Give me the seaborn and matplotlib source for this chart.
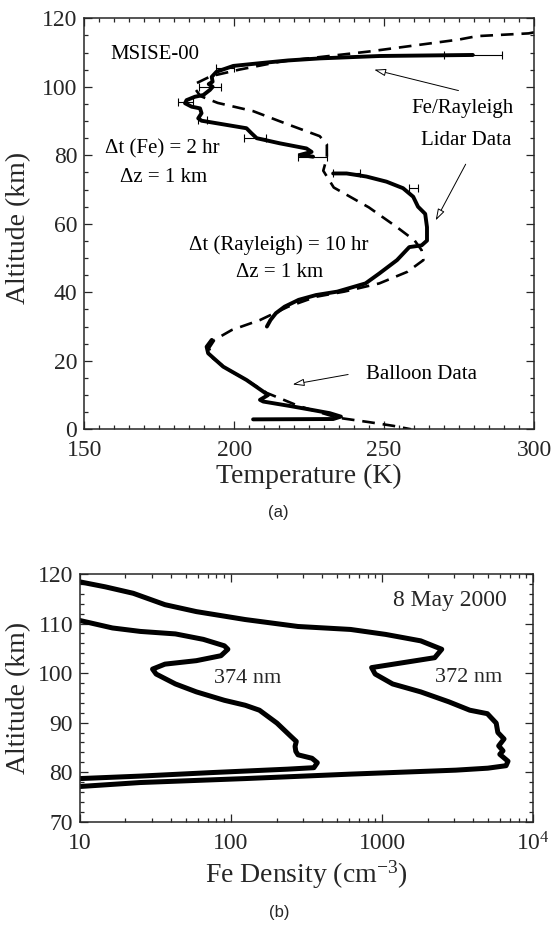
import numpy as np
import pandas as pd
import matplotlib
matplotlib.use("Agg")
import matplotlib.pyplot as plt
from matplotlib.ticker import MultipleLocator, LogLocator, NullFormatter
import seaborn as sns

# ---- panel (a): temperature profiles ----
fe_temp = [279.6, 248.6, 228.6, 218.0, 208.6, 199.7, 194.1, 192.5, 192.8, 191.5, 192.8, 191.9,
           189.7, 186.9, 184.1, 183.6, 185.8, 188.6, 189.1, 188.0, 189.1, 204.1, 205.8, 207.5,
           215.2, 224.1, 225.8, 221.9, 226.3]
fe_alt = [109.3, 109.0, 108.3, 107.7, 106.9, 106.1, 104.4, 102.9, 101.5, 100.8, 100.0, 99.1,
          97.6, 97.1, 96.1, 95.2, 94.2, 93.7, 92.3, 90.8, 90.1, 87.9, 86.4, 85.0,
          83.5, 82.0, 81.0, 80.1, 79.6]

ray_temp = [233.0, 237.5, 244.1, 250.8, 256.3, 259.7, 261.3, 263.7, 264.3, 264.3, 262.5, 258.4,
            254.3, 248.4, 243.8, 234.4, 227.3, 221.5, 216.8, 213.9, 212.1, 210.9]
ray_alt = [74.7, 74.7, 73.8, 72.3, 70.4, 67.9, 65.0, 62.9, 59.0, 55.1, 53.7, 53.2,
           49.4, 45.5, 42.6, 40.2, 39.2, 37.8, 35.8, 33.9, 31.9, 30.0]

balloon_temp = [192.5, 190.8, 191.3, 196.3, 204.1, 209.7, 211.3, 208.6, 209.7, 218.6, 226.3,
                231.9, 235.6, 233.0, 206.3]
balloon_alt = [26.1, 24.1, 22.2, 18.3, 14.4, 11.0, 10.0, 8.6, 8.1, 6.8, 5.6,
               4.7, 3.7, 3.0, 2.9]

msis_temp = [300.0, 298.2, 281.0, 275.0, 244.9, 215.6, 201.6, 192.2, 187.5, 186.9, 188.7, 194.5,
             206.3, 218.0, 228.5, 230.9, 230.9, 229.7, 233.2, 244.9, 254.3, 260.2, 262.5, 263.1,
             257.8, 248.4, 236.7, 227.3, 218.0, 208.6, 199.2, 193.4, 191.6, 192.8, 198.0, 203.9,
             210.9, 221.5, 234.4, 244.9, 253.1, 259.0]
msis_alt = [115.9, 115.6, 114.8, 113.8, 110.3, 107.4, 105.0, 103.1, 101.1, 99.5, 97.3, 95.3,
            92.9, 89.0, 85.6, 83.2, 79.3, 75.5, 70.6, 64.8, 59.0, 55.1, 52.3, 49.4,
            46.0, 42.6, 40.2, 38.7, 35.8, 31.9, 29.0, 26.1, 23.7, 20.8, 17.4, 14.5,
            10.6, 6.8, 3.4, 2.1, 1.0, 0.0]

err_temp = [279.6, 197.0, 192.0, 183.7, 189.5, 207.0, 226.0, 237.5, 259.9]
err_alt = [109.3, 105.4, 100.0, 95.7, 90.3, 85.0, 79.6, 74.8, 70.4]
err_half = [9.6, 3.0, 3.7, 2.5, 1.5, 3.6, 4.8, 4.5, 1.5]

# ---- panel (b): Fe density profiles ----
d374 = [10, 16.4, 25.1, 42.8, 65.5, 90.2, 95.2, 85.7, 58.9, 36.5, 30.2, 31.9, 42.8, 58.9, 90.2,
        124, 154, 201, 249, 270, 265, 268, 277, 343, 372, 353, 236, 73, 25.1, 10]
a374 = [110.6, 109.1, 108.4, 107.9, 106.8, 105.5, 104.8, 103.5, 102.5, 101.8, 100.8, 99.8, 97.8,
        96.2, 94.5, 93.5, 92.5, 89.9, 87.2, 86.2, 85.2, 84.2, 83.5, 82.8, 81.9, 80.9, 80.6, 79.9,
        79.2, 78.7]

d372 = [10, 14.7, 22.5, 36.5, 58.9, 124, 277, 618, 1054, 1798, 2477, 2225, 1377, 851, 898, 1172,
        1798, 2757, 3800, 4964, 5680, 5825, 6400, 5900, 6300, 6000, 6800, 6600, 5000, 3070, 618,
        124, 25, 10]
a372 = [118.4, 117.4, 116.1, 113.8, 112.4, 110.8, 109.4, 108.8, 107.8, 106.5, 104.8, 103.1, 102.1,
        101.1, 99.8, 97.8, 96.2, 94.2, 92.5, 91.8, 89.9, 88.0, 86.7, 85.3, 84.3, 83.6, 82.2, 81.3,
        80.8, 80.4, 79.6, 78.7, 77.9, 77.1]

sns.set_style("ticks")
plt.rcParams["font.family"] = ["Liberation Serif", "DejaVu Serif"]
plt.rcParams["mathtext.default"] = "regular"

fig = plt.figure(figsize=(5.51, 9.25), dpi=100)
ax1 = fig.add_axes([0.1530, 0.5359, 0.8162, 0.4443])
ax2 = fig.add_axes([0.1452, 0.1117, 0.8227, 0.2678])

# ---- draw panel (a) ----
sns.lineplot(data=pd.DataFrame({"T": msis_temp, "z": msis_alt}), x="T", y="z", sort=False,
             estimator=None, color="black", lw=1.9, ax=ax1)
ax1.lines[-1].set_dashes((4.8, 3.0))
for t, z in [(fe_temp, fe_alt), (ray_temp, ray_alt), (balloon_temp, balloon_alt)]:
    sns.lineplot(data=pd.DataFrame({"T": t, "z": z}), x="T", y="z", sort=False,
                 estimator=None, color="black", lw=2.8, ax=ax1)
    ax1.lines[-1].set_solid_joinstyle("round")
    ax1.lines[-1].set_solid_capstyle("round")
ax1.errorbar(err_temp, err_alt, xerr=err_half, fmt="none", ecolor="black", elinewidth=0.8,
             capsize=3, capthick=0.8)

ax1.set_xlim(150, 300)
ax1.set_ylim(0, 120)
ax1.xaxis.set_major_locator(MultipleLocator(50))
ax1.xaxis.set_minor_locator(MultipleLocator(5))
ax1.yaxis.set_major_locator(MultipleLocator(20))
ax1.yaxis.set_minor_locator(MultipleLocator(5))
ax1.set_xlabel("Temperature (K)", fontsize=20)
ax1.set_ylabel("Altitude (km)", fontsize=20)
ax1.xaxis.set_label_coords(0.5, -0.085)
ax1.yaxis.set_label_coords(-0.118, 0.49)

txt = dict(fontsize=15, color="black")
ax1.text(158.8, 109.4, "MSISE-00", ha="left", va="center", **txt)
ax1.text(176.0, 81.8, "Δt (Fe) = 2 hr", ha="center", va="center", **txt)
ax1.text(176.4, 73.5, "Δz = 1 km", ha="center", va="center", **txt)
ax1.text(276.3, 93.6, "Fe/Rayleigh", ha="center", va="center", **txt)
ax1.text(277.5, 84.4, "Lidar Data", ha="center", va="center", **txt)
ax1.text(215.0, 53.7, "Δt (Rayleigh) = 10 hr", ha="center", va="center", **txt)
ax1.text(215.0, 45.7, "Δz = 1 km", ha="center", va="center", **txt)
ax1.text(243.8, 16.0, "Balloon Data", ha="left", va="center", **txt)

arrow = dict(arrowstyle="-|>,head_length=0.7,head_width=0.22", fc="white", ec="black", lw=0.7,
             shrinkA=0, shrinkB=0)
ax1.annotate("", xy=(246.7, 105.0), xytext=(274.8, 98.9), arrowprops=arrow)
ax1.annotate("", xy=(267.2, 61.0), xytext=(277.2, 77.4), arrowprops=arrow)
ax1.annotate("", xy=(219.5, 13.1), xytext=(238.0, 16.0), arrowprops=arrow)

# ---- draw panel (b) ----
for d, a in [(d374, a374), (d372, a372)]:
    sns.lineplot(data=pd.DataFrame({"n": d, "z": a}), x="n", y="z", sort=False,
                 estimator=None, color="black", lw=3.6, ax=ax2)
    ax2.lines[-1].set_solid_joinstyle("round")
    ax2.lines[-1].set_solid_capstyle("round")

ax2.set_xscale("log")
ax2.set_xlim(10, 1e4)
ax2.set_ylim(70, 120)
ax2.set_xticks([10, 100, 1000, 10000], labels=["10", "100", "1000", "10$^4$"])
ax2.xaxis.set_minor_locator(LogLocator(base=10, subs=np.arange(2, 10)))
ax2.xaxis.set_minor_formatter(NullFormatter())
ax2.yaxis.set_major_locator(MultipleLocator(10))
ax2.yaxis.set_minor_locator(MultipleLocator(2))
ax2.set_xlabel("Fe Density (cm$^{-3}$)", fontsize=20)
ax2.set_ylabel("Altitude (km)", fontsize=20)
ax2.xaxis.set_label_coords(0.5, -0.15)
ax2.yaxis.set_label_coords(-0.108, 0.5)
ax2.text(6700, 114.6, "8 May 2000", ha="right", va="center", fontsize=17)
ax2.text(77, 98.8, "374 nm", ha="left", va="center", fontsize=16)
ax2.text(2240, 99.1, "372 nm", ha="left", va="center", fontsize=16)

for ax in (ax1, ax2):
    ax.tick_params(which="both", direction="in", top=True, right=True, width=0.9,
                   labelsize=17)
    ax.tick_params(axis="x", pad=8)
    ax.tick_params(axis="y", pad=5)
    ax.tick_params(which="major", length=6)
    ax.tick_params(which="minor", length=3)
    for sp in ax.spines.values():
        sp.set_linewidth(1.1)

fig.text(0.5045, 1 - 512 / 925, "(a)", ha="center", va="center", fontsize=12,
         family=["Liberation Sans", "DejaVu Sans"])
fig.text(0.506, 1 - 912 / 925, "(b)", ha="center", va="center", fontsize=12,
         family=["Liberation Sans", "DejaVu Sans"])

fig.savefig("out.png", dpi=100)
